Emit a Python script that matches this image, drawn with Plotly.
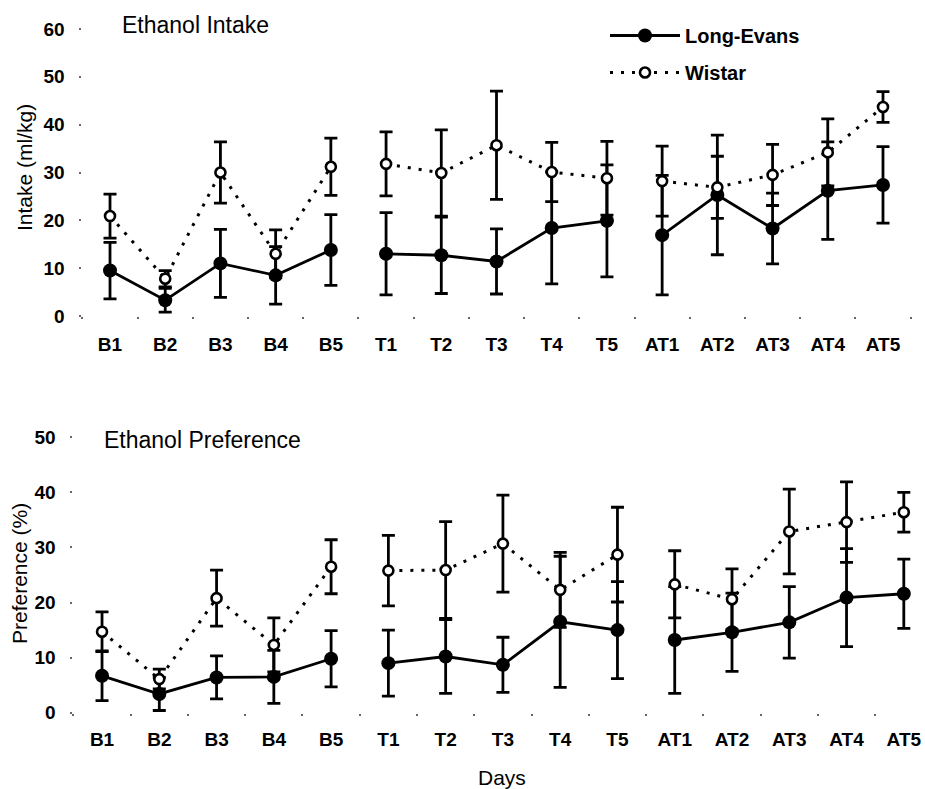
import plotly.graph_objects as go

# Test days: baseline (B), treatment (T) and after-treatment (AT)
days = ["B1", "B2", "B3", "B4", "B5",
        "T1", "T2", "T3", "T4", "T5",
        "AT1", "AT2", "AT3", "AT4", "AT5"]

# Ethanol intake (ml/kg), mean and error
intake_long_evans = [9.5, 3.3, 11.0, 8.5, 13.8, 13.0, 12.7, 11.4, 18.4, 19.9, 16.9, 25.3, 18.3, 26.2, 27.4]
intake_long_evans_err = [5.9, 2.5, 7.1, 6.0, 7.4, 8.6, 8.0, 6.8, 11.7, 11.7, 12.5, 12.5, 7.4, 10.2, 8.0]
intake_wistar = [20.9, 7.8, 30.0, 13.0, 31.2, 31.8, 29.9, 35.7, 30.1, 28.8, 28.2, 26.9, 29.5, 34.2, 43.7]
intake_wistar_err = [4.6, 1.7, 6.4, 5.0, 6.0, 6.7, 9.0, 11.3, 6.2, 7.7, 7.3, 6.5, 6.4, 7.0, 3.2]

# Ethanol preference (%), mean and error
pref_long_evans = [6.7, 3.4, 6.4, 6.5, 9.8, 9.0, 10.2, 8.7, 16.5, 15.0, 13.2, 14.6, 16.4, 20.9, 21.6]
pref_long_evans_err = [4.5, 3.0, 3.9, 4.8, 5.1, 6.0, 6.7, 5.0, 11.9, 8.8, 9.7, 7.1, 6.5, 8.9, 6.3]
pref_wistar = [14.7, 6.1, 20.8, 12.3, 26.5, 25.8, 25.9, 30.7, 22.3, 28.7, 23.3, 20.6, 32.9, 34.6, 36.4]
pref_wistar_err = [3.6, 1.8, 5.1, 4.9, 4.9, 6.4, 8.8, 8.8, 6.8, 8.6, 6.1, 5.5, 7.7, 7.3, 3.6]

# The line is broken between the three phases
phases = [(0, 5), (5, 10), (10, 15)]

FONT = "Liberation Sans, Arial, Helvetica, sans-serif"
INK = "black"

fig = go.Figure()


def add_series(xref, yref, values, errors, name, filled, show_legend):
    for k, (a, b) in enumerate(phases):
        fig.add_trace(go.Scatter(
            x=days[a:b], y=values[a:b],
            xaxis=xref, yaxis=yref,
            mode="lines+markers",
            name=name, legendgroup=name,
            showlegend=show_legend and k == 0,
            cliponaxis=False,
            line=dict(color=INK, width=2.8 if filled else 3,
                      dash="solid" if filled else "3px,8px"),
            marker=dict(symbol="circle",
                        size=14 if filled else 10,
                        color=INK if filled else "white",
                        line=dict(color=INK, width=0 if filled else 2.6)),
            error_y=dict(type="data", array=errors[a:b], visible=True,
                         color=INK, thickness=2.8, width=6.5),
        ))


add_series("x", "y", intake_long_evans, intake_long_evans_err, "Long-Evans", True, True)
add_series("x", "y", intake_wistar, intake_wistar_err, "Wistar", False, True)
add_series("x2", "y2", pref_long_evans, pref_long_evans_err, "Long-Evans", True, False)
add_series("x2", "y2", pref_wistar, pref_wistar_err, "Wistar", False, False)

W, H = 925, 789

tick_font = dict(family=FONT, size=19, color=INK, weight="bold")
x_common = dict(
    type="category", categoryorder="array", categoryarray=days,
    tickson="boundaries", ticks="outside", ticklen=2, tickwidth=2,
    tickcolor="#666", showline=False, showgrid=False, zeroline=False,
    tickfont=tick_font, automargin=False,
)
y_common = dict(
    ticks="outside", ticklen=2, tickwidth=2, tickcolor="#666",
    showline=False, showgrid=False, zeroline=False, dtick=10,
    tickfont=tick_font, ticklabelstandoff=11, automargin=False,
)

fig.update_layout(
    width=W, height=H,
    margin=dict(l=0, r=0, t=0, b=0),
    paper_bgcolor="white", plot_bgcolor="white",
    font=dict(family=FONT, color=INK),
    xaxis=dict(domain=[82.4 / W, 910.6 / W], range=[-0.5, 14.5], anchor="y",
               ticklabelstandoff=15, **x_common),
    yaxis=dict(domain=[1 - 316 / H, 1 - 29 / H], range=[0, 60], anchor="x", **y_common),
    xaxis2=dict(domain=[73.4 / W, 1.0], range=[-0.5, 14.37], anchor="y2",
                ticklabelstandoff=13, **x_common),
    yaxis2=dict(domain=[1 - 712.7 / H, 1 - 437.3 / H], range=[0, 50], anchor="x2", **y_common),
    legend=dict(x=605 / W, y=1 - 16 / H, xanchor="left", yanchor="top",
                bgcolor="rgba(0,0,0,0)", itemwidth=70,
                font=dict(family=FONT, size=20, color=INK, weight="bold"),
                traceorder="grouped", tracegroupgap=8),
    showlegend=True,
)

annotations = [
    dict(text="Ethanol Intake", x=120 / W, y=1 - 25 / H, xanchor="left", yanchor="middle",
         font=dict(size=23)),
    dict(text="Ethanol Preference", x=102 / W, y=1 - 440 / H, xanchor="left", yanchor="middle",
         font=dict(size=23)),
    dict(text="Intake (ml/kg)", x=24 / W, y=1 - 168 / H, textangle=-90,
         xanchor="center", yanchor="middle", font=dict(size=21)),
    dict(text="Preference (%)", x=19 / W, y=1 - 574 / H, textangle=-90,
         xanchor="center", yanchor="middle", font=dict(size=21)),
    dict(text="Days", x=502 / W, y=1 - 777 / H, xanchor="center", yanchor="middle",
         font=dict(size=21)),
]
for a in annotations:
    a.update(xref="paper", yref="paper", showarrow=False)
    a["font"].update(family=FONT, color=INK)
fig.update_layout(annotations=annotations)

fig.write_html("out.html")
